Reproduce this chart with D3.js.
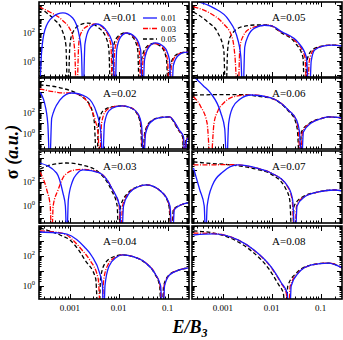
<!DOCTYPE html>
<html>
<head>
<meta charset="utf-8">
<script src="https://cdn.jsdelivr.net/npm/d3@7"></script>
<style>
  body { margin: 0; background: #fff; }
  text { font-family: "Liberation Serif", "DejaVu Serif", serif; }
</style>
</head>
<body>
<svg width="343" height="340"></svg>
<script>
// values: [log10(E/B3), log10(sigma)]
// a zero of the cross section is written as log10(sigma) = -3 (below the axis)
const seriesNames = ["0.01", "0.03", "0.05"]
const panelLabels = ["A=0.01", "A=0.02", "A=0.03", "A=0.04", "A=0.05", "A=0.06", "A=0.07", "A=0.08"]
const xTickLabels = ["0.001", "0.01", "0.1"]
const yTickLabels = [0, 2]   // exponents shown on the left column

const p1Blue = [[-3.62,-3],[-3.58,0.5],[-3.51,2.21],[-3.35,3.14],[-3.14,3.43],[-2.94,3.07],[-2.80,1.71],[-2.76,0.5],[-2.73,-3],
  [-2.69,1.2],[-2.60,2.3],[-2.45,2.64],[-2.28,2.3],[-2.12,1.2],[-2.08,-3],
  [-2.04,0.8],[-1.96,1.7],[-1.84,2.0],[-1.66,1.7],[-1.55,0.8],[-1.51,-3],
  [-1.47,0.1],[-1.38,1.0],[-1.25,1.29],[-1.07,1.0],[-0.96,0.1],[-0.92,-3],
  [-0.88,-0.3],[-0.78,0.4],[-0.65,0.62],[-0.55,0.64]]
const p1Red = [[-3.63,3.86],[-3.41,3.5],[-3.16,2.93],[-2.96,2.0],[-2.90,0.79],[-2.86,-3],
  [-2.82,1.0],[-2.80,1.71],[-2.68,2.4],[-2.47,2.64],[-2.30,2.3],[-2.16,1.2],[-2.12,-3],
  [-2.08,0.8],[-1.99,1.7],[-1.84,2.0],[-1.68,1.7],[-1.58,0.8],[-1.54,-3],
  [-1.50,0.1],[-1.40,1.0],[-1.27,1.25],[-1.10,0.98],[-1.0,0.1],[-0.96,-3],
  [-0.92,-0.3],[-0.82,0.4],[-0.66,0.62],[-0.55,0.64]]
const p1Black = [[-3.63,3.79],[-3.47,3.43],[-3.31,2.93],[-3.16,2.21],[-3.08,1.14],[-3.04,-3],
  [-3.0,1.0],[-2.96,1.86],[-2.80,2.57],[-2.63,2.71],[-2.42,2.4],[-2.25,1.6],[-2.20,0.8],[-2.16,-3],
  [-2.12,0.8],[-2.03,1.7],[-1.87,2.0],[-1.71,1.7],[-1.61,0.8],[-1.57,-3],
  [-1.53,0.1],[-1.43,1.0],[-1.29,1.25],[-1.12,0.98],[-1.02,0.1],[-0.98,-3],
  [-0.94,-0.3],[-0.84,0.4],[-0.68,0.62],[-0.55,0.64]]

const p2Blue = [[-3.62,4.0],[-3.52,3.0],[-3.45,1.0],[-3.41,-3],[-3.37,1.5],[-3.20,3.24],[-3.08,3.75],[-2.96,3.9],[-2.65,3.5],[-2.45,2.0],[-2.36,0],[-2.33,-3],
  [-2.29,1.0],[-2.20,2.2],[-2.05,2.6],[-1.92,2.67],[-1.75,2.5],[-1.60,1.9],[-1.53,0.8],[-1.49,-3],
  [-1.45,0],[-1.35,1.1],[-1.16,1.55],[-0.96,1.62],[-0.76,0.38],[-0.67,-0.3],[-0.65,-3],[-0.61,-0.6],[-0.55,-0.3]]
const p2Red = [[-3.62,4.3],[-3.3,4.0],[-3.1,3.9],[-2.96,3.9],[-2.75,3.6],[-2.62,2.9],[-2.48,1.3],[-2.42,0],[-2.39,-3],
  [-2.35,1.0],[-2.26,2.2],[-2.1,2.6],[-1.93,2.67],[-1.75,2.5],[-1.61,1.9],[-1.54,0.8],[-1.50,-3],
  [-1.46,0],[-1.36,1.1],[-1.16,1.55],[-0.96,1.62],[-0.77,0.38],[-0.68,-0.3],[-0.66,-3],[-0.62,-0.6],[-0.55,-0.3]]
const p2Black = [[-3.62,4.67],[-3.2,4.4],[-2.8,3.7],[-2.59,2.76],[-2.50,1.2],[-2.45,-3],
  [-2.41,1.0],[-2.32,2.2],[-2.12,2.6],[-1.94,2.67],[-1.76,2.5],[-1.62,1.9],[-1.55,0.8],[-1.51,-3],
  [-1.47,0],[-1.37,1.1],[-1.17,1.55],[-0.97,1.62],[-0.78,0.38],[-0.69,-0.3],[-0.67,-3],[-0.63,-0.6],[-0.55,-0.3]]

const p3Blue = [[-3.61,3.58],[-3.27,2.75],[-3.14,1.08],[-3.09,0],[-3.06,-3],
  [-3.03,0.5],[-2.95,2.0],[-2.85,2.7],[-2.73,3.0],[-2.39,2.75],[-2.12,1.33],[-1.98,0],[-1.94,-3],
  [-1.90,0],[-1.78,1.08],[-1.60,1.6],[-1.43,1.75],[-1.10,1.08],[-0.95,0],[-0.90,-3],
  [-0.86,-0.3],[-0.72,0.1],[-0.57,0.25]]
const p3Red = [[-3.61,2.83],[-3.47,1.33],[-3.40,0],[-3.37,-3],
  [-3.34,0],[-3.24,1.33],[-3.1,2.58],[-2.9,3.0],[-2.73,3.05],[-2.39,2.75],[-2.12,1.33],[-1.99,0],[-1.96,-3],
  [-1.92,0],[-1.79,1.08],[-1.60,1.6],[-1.43,1.75],[-1.10,1.08],[-0.96,0],[-0.91,-3],
  [-0.87,-0.3],[-0.72,0.1],[-0.57,0.25]]
const p3Black = [[-3.61,3.08],[-3.41,3.4],[-3.06,3.58],[-2.73,3.4],[-2.39,2.75],[-2.15,1.33],[-2.03,0],[-2.0,-3],
  [-1.96,0],[-1.81,1.08],[-1.61,1.6],[-1.43,1.75],[-1.10,1.08],[-0.97,0],[-0.92,-3],
  [-0.88,-0.3],[-0.72,0.1],[-0.57,0.25]]

const p4Blue = [[-3.61,3.6],[-3.3,3.55],[-3.06,3.45],[-2.86,3.1],[-2.70,2.6],[-2.55,2.0],[-2.39,0.87],[-2.33,0],[-2.31,-3],
  [-2.28,0],[-2.20,1.3],[-2.05,1.9],[-1.92,2.07],[-1.7,1.95],[-1.47,1.6],[-1.25,0.8],[-1.14,0],[-1.10,-3],
  [-1.06,0],[-0.96,0.73],[-0.76,1.07],[-0.57,1.2]]
const p4Red = [[-3.61,3.67],[-3.3,3.6],[-3.06,3.4],[-2.94,3.07],[-2.75,2.4],[-2.59,1.73],[-2.42,0.5],[-2.35,-3],
  [-2.31,0.3],[-2.22,1.4],[-2.05,1.95],[-1.92,2.07],[-1.7,1.95],[-1.47,1.6],[-1.25,0.8],[-1.15,0],[-1.11,-3],
  [-1.07,0],[-0.96,0.73],[-0.76,1.07],[-0.57,1.2]]
const p4Black = [[-3.61,3.87],[-3.2,3.4],[-3.0,3.07],[-2.82,2.4],[-2.69,1.73],[-2.47,0.5],[-2.41,-3],
  [-2.37,0.5],[-2.28,1.5],[-2.1,1.95],[-1.93,2.07],[-1.7,1.95],[-1.48,1.6],[-1.26,0.8],[-1.16,0],[-1.12,-3],
  [-1.08,0],[-0.97,0.73],[-0.76,1.07],[-0.57,1.2]]

const p5Blue = [[-3.58,4.3],[-3.19,3.79],[-2.88,2.93],[-2.69,1.5],[-2.63,0.3],[-2.59,-3],
  [-2.55,1.0],[-2.48,1.8],[-2.35,2.35],[-2.15,2.55],[-2.0,2.5],[-1.80,2.1],[-1.45,1.29],[-1.29,0.29],[-1.23,-3],
  [-1.19,0.0],[-1.12,0.79],[-0.95,1.07],[-0.77,1.14],[-0.55,1.07]]
const p5Red = [[-3.6,3.86],[-3.27,3.43],[-3.0,2.71],[-2.81,1.71],[-2.75,0.29],[-2.69,-3],
  [-2.65,1.0],[-2.58,1.8],[-2.45,2.3],[-2.25,2.5],[-2.07,2.57],[-2.0,2.5],[-1.82,2.1],[-1.48,1.29],[-1.32,0.29],[-1.27,-3],
  [-1.23,0.0],[-1.14,0.79],[-0.95,1.07],[-0.77,1.14],[-0.55,1.07]]
const p5Black = [[-3.6,3.5],[-3.31,2.79],[-3.1,2.0],[-2.98,0.79],[-2.94,-3],
  [-2.90,0.8],[-2.85,1.71],[-2.62,2.43],[-2.33,2.57],[-2.07,2.57],[-2.0,2.5],[-1.84,2.1],[-1.52,1.29],[-1.36,0.29],[-1.32,-3],
  [-1.28,0.0],[-1.17,0.79],[-0.96,1.07],[-0.77,1.14],[-0.55,1.07]]

const p6Blue = [[-3.58,5.4],[-3.40,4.6],[-3.25,3.9],[-3.04,2.0],[-2.96,0.5],[-2.92,-3],
  [-2.88,1.0],[-2.80,2.5],[-2.65,3.3],[-2.42,3.71],[-2.01,3.43],[-1.66,2.29],[-1.49,1.33],[-1.43,0.2],[-1.39,-3],
  [-1.35,0.2],[-1.19,1.05],[-1.0,1.45],[-0.84,1.62],[-0.55,1.52]]
const p6Red = [[-3.60,3.55],[-3.45,2.6],[-3.32,1.0],[-3.25,-3],
  [-3.18,1.0],[-3.10,2.2],[-2.98,2.95],[-2.73,3.6],[-2.42,3.72],[-2.01,3.43],[-1.66,2.29],[-1.50,1.33],[-1.45,0.2],[-1.41,-3],
  [-1.37,0.2],[-1.2,1.05],[-1.0,1.45],[-0.84,1.62],[-0.55,1.52]]
const p6Black = [[-3.60,3.7],[-3.0,3.75],[-2.6,3.75],[-2.3,3.6],[-2.01,3.4],[-1.66,2.2],[-1.52,1.3],[-1.47,0.2],[-1.43,-3],
  [-1.39,0.2],[-1.22,1.05],[-1.0,1.45],[-0.84,1.62],[-0.55,1.52]]

const p7Blue = [[-3.60,3.17],[-3.47,1.33],[-3.38,0],[-3.35,-3],
  [-3.32,0],[-3.21,1.75],[-3.0,2.83],[-2.69,3.42],[-2.3,3.15],[-2.01,2.75],[-1.66,1.58],[-1.57,0.5],[-1.52,-3],
  [-1.48,0],[-1.33,0.75],[-1.04,1.17],[-0.71,1.33],[-0.55,1.25]]
const p7Red = [[-3.60,3.42],[-3.25,3.42],[-2.95,3.45],[-2.69,3.42],[-2.3,3.15],[-2.01,2.75],[-1.67,1.58],[-1.58,0.5],[-1.53,-3],
  [-1.49,0],[-1.34,0.75],[-1.04,1.17],[-0.71,1.33],[-0.55,1.25]]
const p7Black = [[-3.60,3.67],[-3.25,3.55],[-2.9,3.45],[-2.6,3.3],[-2.3,3.05],[-2.01,2.65],[-1.72,1.5],[-1.63,0.5],[-1.58,-3],
  [-1.54,0],[-1.37,0.75],[-1.05,1.17],[-0.71,1.33],[-0.55,1.25]]

const p8Blue = [[-3.60,3.4],[-3.19,3.47],[-2.69,3.07],[-2.36,2.4],[-2.01,1.27],[-1.80,0.2],[-1.68,-0.5],[-1.64,-3],
  [-1.60,0],[-1.45,0.87],[-1.18,1.4],[-0.84,1.53],[-0.55,1.2]]
const p8Red = [[-3.60,3.53],[-3.2,3.5],[-2.69,3.07],[-2.37,2.4],[-2.02,1.27],[-1.81,0.2],[-1.70,-0.5],[-1.66,-3],
  [-1.62,0],[-1.46,0.87],[-1.18,1.4],[-0.84,1.53],[-0.55,1.2]]
const p8Black = [[-3.60,3.67],[-3.19,3.53],[-2.72,3.0],[-2.40,2.3],[-2.06,1.15],[-1.86,0.1],[-1.76,-0.5],[-1.71,-3],
  [-1.67,0],[-1.49,0.87],[-1.19,1.4],[-0.84,1.53],[-0.55,1.2]]

const panelData = [
  [p1Blue, p1Red, p1Black], [p2Blue, p2Red, p2Black], [p3Blue, p3Red, p3Black], [p4Blue, p4Red, p4Black],
  [p5Blue, p5Red, p5Black], [p6Blue, p6Red, p6Black], [p7Blue, p7Red, p7Black], [p8Blue, p8Red, p8Black]]

// y range (log10) of each row of panels
const rowLogRange = [[-1.14, 4.21], [-1.43, 5.33], [-1.42, 4.58], [-0.87, 4.0]]

const svg = d3.select("svg")
const colX = [39, 192]
const panelW = 150
const rowY = [[2, 77], [78, 149], [151, 223], [226, 299]]

const colors = ["#1a1aff", "#ff0000", "#000000"]
const dashes = [null, "5,1.5,1,1.5", "4,2.5"]

const xScale = d3.scaleLog().domain([10 ** -3.63, 10 ** -0.56]).range([0, panelW])

const majX = [1e-3, 1e-2, 1e-1]
const minX = []
for (let d = -4; d <= -1; d++) for (let m = 2; m <= 9; m++) {
  const v = m * 10 ** d
  if (v > xScale.domain()[0] && v < xScale.domain()[1]) minX.push(v)
}

panelData.forEach((curves, i) => {
  const col = Math.floor(i / 4), row = i % 4
  const h = rowY[row][1] - rowY[row][0]
  const yScale = d3.scaleLog()
    .domain([10 ** rowLogRange[row][0], 10 ** rowLogRange[row][1]])
    .range([h, 0])
  const g = svg.append("g").attr("transform", `translate(${colX[col]},${rowY[row][0]})`)

  const clipId = "clip" + i
  g.append("clipPath").attr("id", clipId).append("rect").attr("width", panelW).attr("height", h)

  // y ticks
  const lo = Math.ceil(rowLogRange[row][0]), hi = Math.floor(rowLogRange[row][1])
  const majY = d3.range(lo, hi + 1).map(e => 10 ** e)
  const minY = []
  for (let e = lo - 1; e <= hi; e++) for (let m = 2; m <= 9; m++) {
    const v = m * 10 ** e
    if (yScale(v) > 0 && yScale(v) < h) minY.push(v)
  }

  const tickG = g.append("g").attr("stroke", "#000").attr("stroke-width", 1)
  const addTicks = (vals, len, isX) => {
    vals.forEach(v => {
      if (isX) {
        const x = Math.round(xScale(v)) + 0.5
        tickG.append("line").attr("x1", x).attr("x2", x).attr("y1", h).attr("y2", h - len)
        tickG.append("line").attr("x1", x).attr("x2", x).attr("y1", 0).attr("y2", len)
      } else {
        const y = Math.round(yScale(v)) + 0.5
        tickG.append("line").attr("x1", 0).attr("x2", len).attr("y1", y).attr("y2", y)
        tickG.append("line").attr("x1", panelW).attr("x2", panelW - len).attr("y1", y).attr("y2", y)
      }
    })
  }
  addTicks(majX, 5, true)
  addTicks(minX, 2.5, true)
  addTicks(majY, 5, false)
  addTicks(minY, 2.5, false)

  // curves
  const line = d3.line()
    .x(d => xScale(10 ** d[0]))
    .y(d => yScale(10 ** d[1]))
    .curve(d3.curveMonotoneX)
  const cg = g.append("g").attr("clip-path", `url(#${clipId})`)
  ;[2, 1, 0].forEach(k => {
    cg.append("path")
      .attr("d", line(curves[k]))
      .attr("fill", "none")
      .attr("stroke", colors[k])
      .attr("stroke-width", 1.3)
      .attr("stroke-dasharray", dashes[k])
  })

  // frame
  g.append("rect").attr("width", panelW).attr("height", h)
    .attr("fill", "none").attr("stroke", "#000").attr("stroke-width", 1.6)

  // panel label
  g.append("text")
    .attr("x", col === 0 ? 64 : 80).attr("y", 19)
    .attr("font-size", "11px")
    .text(panelLabels[i])

  // y tick labels, left column only
  if (col === 0) {
    yTickLabels.forEach(e => {
      const t = g.append("text")
        .attr("x", -4).attr("y", yScale(10 ** e) + 3.5)
        .attr("text-anchor", "end").attr("font-size", "9px")
      t.append("tspan").text("10")
      t.append("tspan").attr("dy", -4).attr("font-size", "6.5px").text(e)
    })
  }

  // x tick labels, bottom row only
  if (row === 3) {
    majX.forEach((v, j) => {
      g.append("text")
        .attr("x", xScale(v)).attr("y", h + 12)
        .attr("text-anchor", "middle").attr("font-size", "9px")
        .text(xTickLabels[j])
    })
  }

  // legend in first panel
  if (i === 0) {
    seriesNames.forEach((s, k) => {
      const ly = 16 + k * 10.5
      g.append("line").attr("x1", 104).attr("x2", 118).attr("y1", ly).attr("y2", ly)
        .attr("stroke", colors[k]).attr("stroke-width", 1.3).attr("stroke-dasharray", dashes[k])
      g.append("text").attr("x", 122).attr("y", ly + 3).attr("font-size", "8.5px").text(s)
    })
  }
})

// axis titles
const yt = svg.append("text")
  .attr("transform", "translate(18,152) rotate(-90)")
  .attr("text-anchor", "middle")
  .attr("font-size", "18px").attr("font-weight", "bold")
yt.append("tspan").text("σ ")
yt.append("tspan").attr("font-style", "italic").text("(a.u.)")

const xt = svg.append("text")
  .attr("x", 190).attr("y", 333)
  .attr("text-anchor", "middle")
  .attr("font-size", "18px").attr("font-weight", "bold").attr("font-style", "italic")
xt.append("tspan").text("E/B")
xt.append("tspan").attr("dy", 4).attr("font-size", "12px").text("3")
</script>
</body>
</html>
